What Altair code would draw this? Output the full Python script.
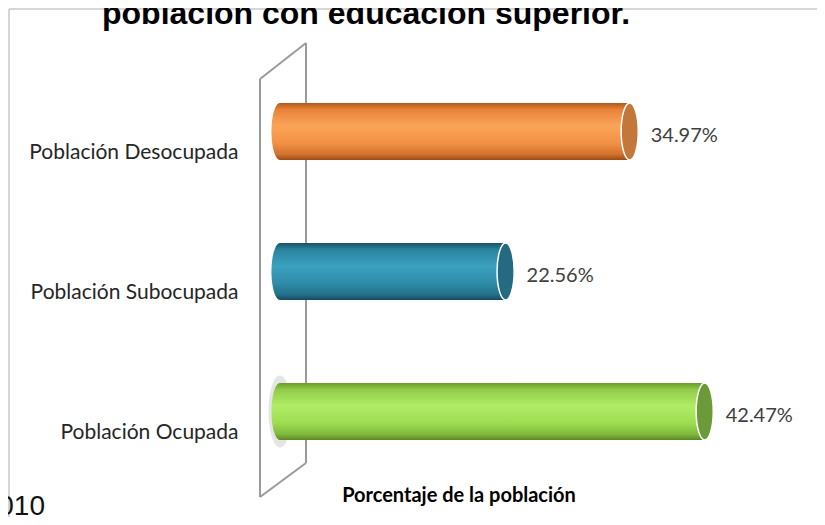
import altair as alt
import pandas as pd

# ---- data ----
categories = ["Población Desocupada", "Población Subocupada", "Población Ocupada"]
values = [34.97, 22.56, 42.47]
title_text = "población con educación superior."
x_title = "Porcentaje de la población"
source_text = "2010"

# ---- styles ----
body_stops = {
    "Población Desocupada": ["#b05a1c", "#e8843a", "#faa458", "#f39146", "#d2722c", "#9a4a14"],
    "Población Subocupada": ["#175468", "#2a84a0", "#3ba1bf", "#2f8dab", "#247189", "#154c60"],
    "Población Ocupada": ["#6a9e2a", "#92cc48", "#b0ec66", "#9edd52", "#80b83c", "#5c8824"],
}
stop_offsets = [0.0, 0.12, 0.4, 0.7, 0.9, 1.0]
cap_colors = {
    "Población Desocupada": "#c4773a",
    "Población Subocupada": "#246a80",
    "Población Ocupada": "#6c9a38",
}

df = pd.DataFrame({"categoria": categories, "valor": values})
df["etiqueta"] = [f"{v:.2f}%" for v in values]
one = pd.DataFrame({"k": [0]})

ELLIPSE = "M0,-1 A0.3,1 0 1,1 0,1 A0.3,1 0 1,1 0,-1 Z"
GLOW = "M0,-1 A0.32,1 0 1,1 0,1 A0.32,1 0 1,1 0,-1 Z"

y_enc = alt.Y(
    "categoria:N",
    sort=categories,
    scale=alt.Scale(paddingInner=0.593, paddingOuter=0.2965),
    axis=alt.Axis(
        title=None, labelFont="Lato", labelFontSize=21, labelColor="#262626",
        labelPadding=42, labelOffset=21, ticks=False, domain=False, grid=False,
        labelLimit=400,
    ),
)
x_enc = alt.X(
    "valor:Q",
    scale=alt.Scale(domain=[0, 50], nice=False, zero=True),
    axis=alt.Axis(
        title=x_title, labels=False, ticks=False, domain=False, grid=False,
        titleFont="Lato", titleFontWeight="bold", titleFontSize=20, titleColor="#000000",
        titleX=178.5, titleY=20, titleBaseline="alphabetic",
    ),
)

layers = []

# chart frame (light gray)
frame_col = "#c8c8c8"
layers.append(alt.Chart(one).mark_rule(color=frame_col, strokeWidth=1.5).encode(
    x=alt.value(-271), x2=alt.value(560), y=alt.value(-52.5)))
layers.append(alt.Chart(one).mark_rule(color=frame_col, strokeWidth=1.5).encode(
    x=alt.value(-271), y=alt.value(-52.5), y2=alt.value(470)))

# 3D wall outline
wall_col = "#9a9a9a"
for (x1, y1, x2, y2) in [(-20, 17.5, 26, -18.5), (-20, 17.5, -20, 435.5),
                         (26, -18.5, 26, 401.5), (-20, 435.5, 26, 401.5)]:
    layers.append(alt.Chart(one).mark_rule(color=wall_col, strokeWidth=2).encode(
        x=alt.value(x1), y=alt.value(y1), x2=alt.value(x2), y2=alt.value(y2)))

# soft glow behind the "Ocupada" bar's base
layers.append(alt.Chart(df).transform_filter(alt.datum.categoria == "Población Ocupada").transform_calculate(
    cero="0").mark_point(shape=GLOW, size=72 * 72, filled=True, color="#a8a8a8", opacity=0.3).encode(
    x=alt.X("cero:Q"), y=y_enc))

# cylinders
for cat in categories:
    grad = alt.Gradient(
        gradient="linear",
        stops=[alt.GradientStop(offset=o, color=c) for o, c in zip(stop_offsets, body_stops[cat])],
        x1=0, x2=0, y1=0, y2=1,
    )
    sub = alt.Chart(df).transform_filter(alt.datum.categoria == cat)
    # left rounded end
    layers.append(sub.transform_calculate(cero="0").mark_point(
        shape=ELLIPSE, size=57 * 57, filled=True, color=grad, opacity=1).encode(
        x=alt.X("cero:Q"), y=y_enc))
    # body
    layers.append(sub.mark_bar(color=grad).encode(x=x_enc, y=y_enc))
    # right cap
    layers.append(sub.mark_point(
        shape=ELLIPSE, size=57 * 57, filled=True, fill=cap_colors[cat], stroke="#ffffff",
        strokeWidth=1.5, opacity=1).encode(x=x_enc, y=y_enc))

# value labels
layers.append(alt.Chart(df).mark_text(
    align="left", baseline="middle", dx=21, dy=4, font="Lato", fontSize=20, color="#404040").encode(
    x=x_enc, y=y_enc, text="etiqueta:N"))

# title (cropped at the top, as in the source image)
layers.append(alt.Chart(one).mark_text(
    align="left", baseline="alphabetic", font="Liberation Sans", fontWeight="bold",
    fontSize=32, color="#000000").encode(
    x=alt.value(-178), y=alt.value(-37.5), text=alt.value(title_text)))

# source year (cropped at the left, as in the source image)
layers.append(alt.Chart(one).mark_text(
    align="right", baseline="alphabetic", font="Liberation Sans", fontSize=28,
    color="#111111").encode(
    x=alt.value(-235), y=alt.value(453.5), text=alt.value(source_text)))

chart = alt.layer(*layers).properties(
    width=500, height=420,
    autosize=alt.AutoSizeParams(type="none"),
    padding={"left": 272, "top": 53.5, "right": 37, "bottom": 35.5},
    background="white",
).configure_view(stroke=None)

chart.save("out.html", embed_options={"renderer": "svg", "actions": False})
